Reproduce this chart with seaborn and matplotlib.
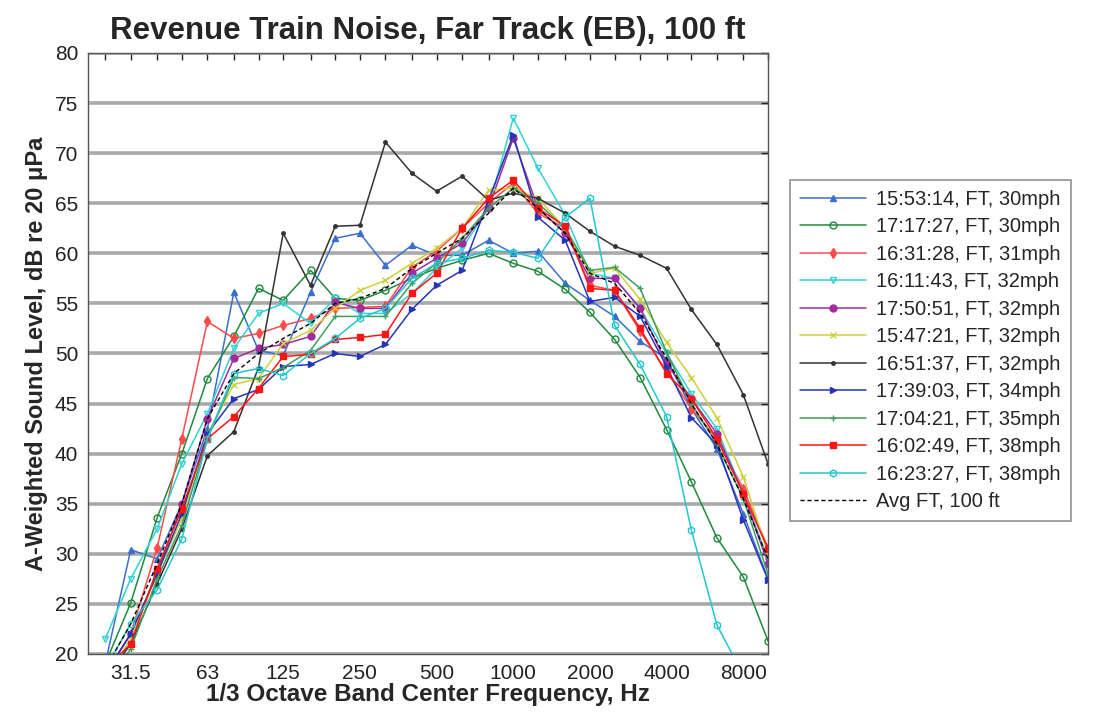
import numpy as np
import matplotlib
matplotlib.use("Agg")
import matplotlib.pyplot as plt
import seaborn as sns
from matplotlib.ticker import FixedLocator, FixedFormatter, NullLocator

# 1/3 octave band centres, Hz
freqs = [25, 31.5, 40, 50, 63, 80, 100, 125, 160, 200, 250, 315, 400, 500,
         630, 800, 1000, 1250, 1600, 2000, 2500, 3150, 4000, 5000, 6300, 8000, 10000]
octave_labels = ["31.5", "63", "125", "250", "500", "1000", "2000", "4000", "8000"]

# A-weighted levels, dB re 20 uPa
ev_155314 = [19.0, 30.4, 29.5, 35.0, 42.5, 56.1, 50.3, 49.8, 56.1, 61.5, 62.0, 58.8, 60.8, 59.8,
             59.8, 61.3, 60.0, 60.2, 57.0, 55.3, 53.7, 51.2, 49.5, 44.5, 40.5, 34.0, 27.5]
ev_171727 = [19.0, 25.1, 33.6, 40.0, 47.5, 51.7, 56.5, 55.3, 58.3, 55.5, 55.3, 56.3, 57.5, 58.5,
             59.3, 60.0, 59.0, 58.2, 56.4, 54.1, 51.4, 47.6, 42.4, 37.2, 31.6, 27.7, 21.3]
ev_163128 = [18.0, 22.0, 30.6, 41.5, 53.2, 51.5, 52.0, 52.8, 53.5, 54.5, 54.6, 54.7, 58.6, 60.2,
             62.5, 65.0, 67.0, 64.0, 62.5, 56.8, 56.3, 52.2, 48.2, 44.5, 41.5, 36.5, 30.6]
ev_161143 = [21.5, 27.5, 32.5, 39.0, 44.0, 50.5, 54.0, 55.0, 53.0, 55.5, 54.0, 54.0, 56.0, 58.5,
             60.5, 64.5, 73.5, 68.5, 63.8, 58.0, 57.5, 54.5, 50.0, 46.0, 42.5, 36.0, 29.5]
ev_175051 = [18.0, 22.0, 28.0, 35.0, 43.5, 49.5, 50.5, 50.9, 51.7, 55.1, 54.5, 54.5, 58.0, 59.5,
             61.0, 64.5, 71.5, 64.5, 62.0, 57.5, 57.5, 54.5, 49.0, 45.5, 42.0, 36.0, 29.0]
ev_154721 = [17.5, 21.5, 28.0, 33.5, 42.0, 46.9, 47.5, 51.0, 52.3, 54.5, 56.3, 57.3, 59.0, 60.5,
             62.5, 66.3, 66.5, 65.5, 62.5, 58.0, 58.5, 55.4, 51.1, 47.6, 43.6, 37.7, 30.0]
ev_165137 = [17.5, 21.0, 27.0, 32.5, 39.8, 42.2, 48.6, 62.0, 56.8, 62.7, 62.8, 71.1, 68.0, 66.2,
             67.7, 65.3, 66.0, 65.5, 64.0, 62.2, 60.7, 59.8, 58.5, 54.4, 50.9, 45.9, 39.0]
ev_173903 = [18.0, 22.0, 28.0, 34.0, 42.0, 45.5, 46.4, 48.7, 48.9, 50.0, 49.7, 50.9, 54.4, 56.8,
             58.3, 65.3, 71.8, 63.6, 61.3, 55.2, 55.6, 53.7, 48.7, 43.6, 40.9, 33.4, 27.4]
ev_170421 = [17.0, 20.5, 27.5, 32.9, 41.5, 47.6, 47.5, 48.6, 50.3, 53.7, 53.7, 53.7, 57.0, 59.0,
             61.5, 64.5, 66.5, 65.0, 62.5, 58.3, 58.6, 56.5, 50.1, 45.0, 41.0, 35.5, 28.0]
ev_160249 = [18.5, 21.0, 28.5, 34.5, 41.5, 43.7, 46.5, 49.7, 49.9, 51.4, 51.6, 51.9, 56.0, 58.0,
             62.5, 65.5, 67.3, 64.5, 62.7, 56.5, 56.3, 52.5, 48.0, 45.5, 41.5, 36.0, 30.5]
ev_162327 = [18.5, 23.0, 26.4, 31.5, 41.5, 48.0, 48.5, 47.8, 50.0, 51.5, 53.5, 54.5, 57.5, 59.0,
             59.5, 60.3, 60.1, 59.5, 63.6, 65.5, 52.8, 48.9, 43.7, 32.4, 22.9, 17.9, 12.0]
avg_ft = [18.5, 23.0, 29.0, 35.0, 43.5, 48.0, 50.0, 51.5, 53.0, 55.0, 55.5, 56.5, 58.5, 60.0,
          61.5, 64.0, 66.5, 64.5, 62.0, 58.0, 57.0, 54.0, 49.5, 45.0, 41.0, 35.5, 29.5]

events = [
    ("15:53:14, FT, 30mph", ev_155314, "#3a6fcf", "^", True),
    ("17:17:27, FT, 30mph", ev_171727, "#1f8a3c", "o", False),
    ("16:31:28, FT, 31mph", ev_163128, "#ff4a4a", "d", True),
    ("16:11:43, FT, 32mph", ev_161143, "#2fd3d3", "v", False),
    ("17:50:51, FT, 32mph", ev_175051, "#a02ca0", "o", True),
    ("15:47:21, FT, 32mph", ev_154721, "#cfcf3a", "x", True),
    ("16:51:37, FT, 32mph", ev_165137, "#333333", ".", True),
    ("17:39:03, FT, 34mph", ev_173903, "#2535b5", ">", True),
    ("17:04:21, FT, 35mph", ev_170421, "#3d9e5e", "+", True),
    ("16:02:49, FT, 38mph", ev_160249, "#ff1414", "s", True),
    ("16:23:27, FT, 38mph", ev_162327, "#22c6d0", "h", False),
]

sns.set_style("white")
plt.rcParams["font.family"] = ["Liberation Sans", "DejaVu Sans"]

fig = plt.figure(figsize=(10.94, 7.17), dpi=100)
ax = fig.add_axes([0.0804, 0.0879, 0.6216, 0.8382])

for label, vals, col, mk, filled in events:
    kw = dict(markerfacecolor=col) if filled else dict(markerfacecolor="none")
    sns.lineplot(x=freqs, y=vals, ax=ax, color=col, marker=mk, markersize=5,
                 markeredgecolor=col, markeredgewidth=1.0, linewidth=1.1,
                 label=label, sort=False, **kw)

sns.lineplot(x=freqs, y=avg_ft, ax=ax, color="black", linewidth=1.0,
             linestyle=(0, (3, 2)), label="Avg FT, 100 ft", sort=False)

ax.set_xscale("log")
ax.set_xlim(21.4, 10000)
ax.set_ylim(20, 80)

# every band gets a tick, only octave bands get a label
tick_text = [lab if lab in octave_labels else "" for lab in
             [("%g" % f) for f in freqs]]
ax.xaxis.set_major_locator(FixedLocator(freqs))
ax.xaxis.set_major_formatter(FixedFormatter(tick_text))
ax.xaxis.set_minor_locator(NullLocator())
ax.set_yticks(np.arange(20, 81, 5))

ax.yaxis.grid(True, color="#a9a9a9", linewidth=2.6)
ax.xaxis.grid(False)
ax.set_axisbelow(True)
ax.tick_params(direction="in", length=5, width=1, top=True, right=True,
               labelsize=15, colors="#222222", pad=7)
for s in ax.spines.values():
    s.set_color("#555555")
    s.set_linewidth(1.0)

ax.set_title("Revenue Train Noise, Far Track (EB), 100 ft",
             fontsize=22.5, fontweight="bold", pad=10)
ax.set_xlabel("1/3 Octave Band Center Frequency, Hz", fontsize=17.5,
              fontweight="bold", labelpad=0)
ax.set_ylabel("A-Weighted Sound Level, dB re 20 \u03bcPa", fontsize=17,
              fontweight="bold", labelpad=5)

leg = ax.legend(loc="upper left", bbox_to_anchor=(0.722, 0.749),
                bbox_transform=fig.transFigure, fontsize=14.5, frameon=True,
                fancybox=False, edgecolor="#777777", handlelength=3.3,
                labelspacing=0.42, borderpad=0.5, handletextpad=0.5,
                borderaxespad=0)
leg.get_frame().set_linewidth(1.2)

fig.savefig("out.png", dpi=100)
